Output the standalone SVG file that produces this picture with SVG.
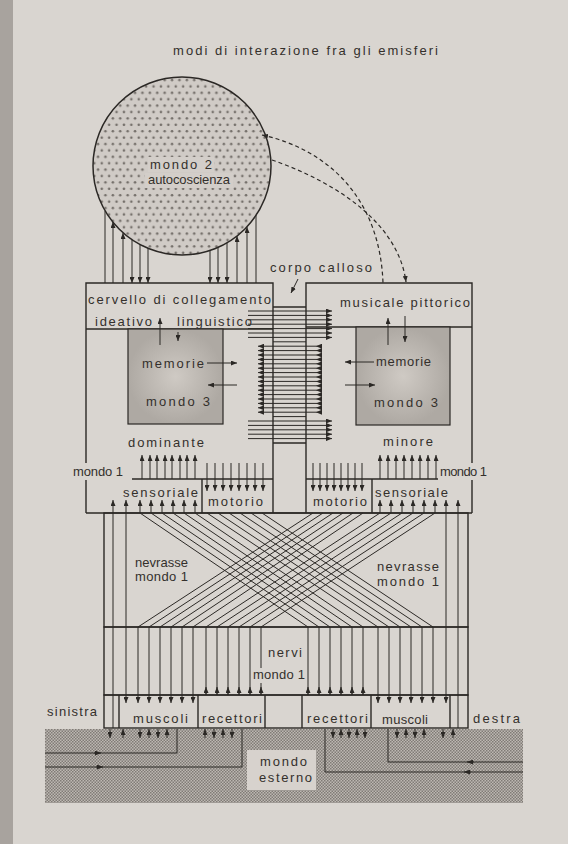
<svg xmlns="http://www.w3.org/2000/svg" width="568" height="844" viewBox="0 0 568 844">
<defs>
<style>
.ln{stroke:#2b2825;stroke-width:1;fill:none}
.bx{stroke:#2b2825;stroke-width:1.4;fill:none}
.dash{stroke:#2b2825;stroke-width:1.2;fill:none;stroke-dasharray:4 3}
.a{marker-end:url(#ah)}
.s{marker-start:url(#ah)}
.f{marker-start:url(#af)}
.t{font-family:"Liberation Sans",Arial,sans-serif;font-size:13px;fill:#34302c}
.bg{fill:#d9d5d0}
</style>
<marker id="ah" viewBox="0 0 6 5" refX="6" refY="2.5" markerWidth="6" markerHeight="5" markerUnits="userSpaceOnUse" orient="auto-start-reverse"><path d="M0,0 L6,2.5 L0,5 z" fill="#2b2825"/></marker>
<marker id="af" viewBox="0 0 6 5" refX="0" refY="2.5" markerWidth="6" markerHeight="5" markerUnits="userSpaceOnUse" orient="auto"><path d="M0,0 L6,2.5 L0,5 z" fill="#2b2825"/></marker>
<pattern id="dots" width="7.4" height="12.8" patternUnits="userSpaceOnUse"><rect width="7.4" height="12.8" fill="#d0cbc6"/><circle cx="1.85" cy="3.2" r="1.3" fill="#736e69"/><circle cx="5.55" cy="9.6" r="1.3" fill="#736e69"/></pattern>
<pattern id="ht" width="3" height="3" patternUnits="userSpaceOnUse"><rect width="3" height="3" fill="#bdb8b2"/><rect width="1.5" height="1.5" fill="#807b76"/><rect x="1.5" y="1.5" width="1.5" height="1.5" fill="#807b76"/></pattern>
<radialGradient id="mem"><stop offset="0" stop-color="#cfcac4"/><stop offset="1" stop-color="#aea9a3"/></radialGradient>
</defs>

<rect width="568" height="844" fill="#d9d5d0"/>
<rect width="13" height="844" fill="#a8a39e"/>

<g id="title"><text class="t" x="173" y="55" font-size="11" textLength="265" lengthAdjust="spacing">modi di interazione fra gli emisferi</text></g>

<g id="mondo-esterno">
<rect x="45" y="729" width="478" height="74" fill="url(#ht)"/>
</g>

<g id="mondo2">
<circle cx="182" cy="166" r="89" fill="url(#dots)" stroke="#2b2825" stroke-width="1.5"/>
<rect x="148" y="157" width="66" height="15" fill="#d3cec9"/>
<rect x="145" y="173" width="88" height="15" fill="#d3cec9"/>
<text class="t" x="150" y="169" textLength="62" lengthAdjust="spacing">mondo 2</text>
<text class="t" x="148" y="184" textLength="82" lengthAdjust="spacing">autocoscienza</text>
</g>

<g id="left-hemisphere">
<path class="bx" d="M86,513V283H273V513"/>
<path class="bx" d="M86,329H273"/>
<rect x="128" y="329" width="95" height="95" fill="url(#mem)" stroke="#2b2825" stroke-width="1.2"/>
<path class="bx" d="M132,479H273M202,479V513"/>
</g>

<g id="right-hemisphere">
<path class="bx" d="M306,513V283H472V513"/>
<path class="bx" d="M306,327H472"/>
<rect x="356" y="327" width="94" height="98" fill="url(#mem)" stroke="#2b2825" stroke-width="1.2"/>
<path class="bx" d="M306,479H442M372,479V513"/>
</g>

<g id="corpo-calloso">
<path class="bx" d="M273,307H306M273,443H306" stroke-width="2"/>
</g>

<g id="nevrasse">
<path class="bx" d="M86,513H472"/>
<rect x="104" y="513" width="364" height="114" class="bx"/>
</g>

<g id="nervi">
<rect x="104" y="627" width="364" height="68" class="bx"/>
</g>

<g id="periferia">
<rect x="104" y="695" width="364" height="33" class="bx"/>
<path class="bx" d="M119,695V728M198,695V728M265,695V728M302,695V728M371,695V728M450,695V728"/>
</g>

<g id="connectors">
<path class="ln" d="M105,211V283"/>
<path class="ln a" d="M113,283V222"/>
<path class="ln a" d="M123,283V233"/>
<path class="ln a" d="M132,240V283"/>
<path class="ln a" d="M140,244V283"/>
<path class="ln a" d="M148,248V283"/>
<path class="ln a" d="M210,250V283"/>
<path class="ln a" d="M218,247V283"/>
<path class="ln a" d="M227,243V283"/>
<path class="ln a" d="M237,283V236"/>
<path class="ln a" d="M247,283V227"/>
<path class="ln" d="M256,215V283"/>
<path class="dash s" d="M262,135 C330,150 380,200 383,283"/>
<path class="dash a" d="M272,160 C330,180 398,220 406,282"/>
<path class="ln a" d="M298,279L291,293"/>

<path class="ln a" d="M248,311H332"/><path class="ln a" d="M248,315.4H332"/><path class="ln a" d="M248,319.8H332"/><path class="ln a" d="M248,324.2H332"/><path class="ln a" d="M248,328.6H332"/><path class="ln a" d="M248,333H332"/><path class="ln a" d="M248,337.4H332"/>
<path class="ln" d="M273,341.8H306M273,416.6H306"/>
<path class="ln a f" d="M322,346.2H258"/><path class="ln a f" d="M322,350.6H258"/><path class="ln a f" d="M322,355H258"/><path class="ln a f" d="M322,359.4H258"/><path class="ln a f" d="M322,363.8H258"/><path class="ln a f" d="M322,368.2H258"/><path class="ln a f" d="M322,372.6H258"/><path class="ln a f" d="M322,377H258"/><path class="ln a f" d="M322,381.4H258"/><path class="ln a f" d="M322,385.8H258"/><path class="ln a f" d="M322,390.2H258"/><path class="ln a f" d="M322,394.6H258"/><path class="ln a f" d="M322,399H258"/><path class="ln a f" d="M322,403.4H258"/><path class="ln a f" d="M322,407.8H258"/><path class="ln a f" d="M322,412.2H258"/>
<path class="ln a" d="M248,421H332"/><path class="ln a" d="M248,425.4H332"/><path class="ln a" d="M248,429.8H332"/><path class="ln a" d="M248,434.2H332"/><path class="ln a" d="M248,438.6H332"/>

<path class="ln a" d="M207,363H237"/>
<path class="ln a" d="M237,385H208"/>
<path class="ln a" d="M374,362H345"/>
<path class="ln a" d="M345,385H375"/>
<path class="ln a" d="M160,345V318"/>
<path class="ln a" d="M178,332V341"/>
<path class="ln a" d="M388,345V318"/>
<path class="ln a" d="M405,316V342"/>

<path class="ln a" d="M142,479V455"/><path class="ln a" d="M150,479V455"/><path class="ln a" d="M157,479V455"/><path class="ln a" d="M165,479V455"/><path class="ln a" d="M172,479V455"/><path class="ln a" d="M180,479V455"/><path class="ln a" d="M187,479V455"/><path class="ln a" d="M195,479V455"/>
<path class="ln a" d="M380,479V455"/><path class="ln a" d="M388,479V455"/><path class="ln a" d="M396,479V455"/><path class="ln a" d="M404,479V455"/><path class="ln a" d="M412,479V455"/><path class="ln a" d="M420,479V455"/><path class="ln a" d="M428,479V455"/><path class="ln a" d="M436,479V455"/>
<path class="ln a" d="M207,463V491"/><path class="ln a" d="M215,463V491"/><path class="ln a" d="M223,463V491"/><path class="ln a" d="M231,463V491"/><path class="ln a" d="M239,463V491"/><path class="ln a" d="M247,463V491"/><path class="ln a" d="M255,463V491"/><path class="ln a" d="M263,463V491"/>
<path class="ln a" d="M313,463V491"/><path class="ln a" d="M320,463V491"/><path class="ln a" d="M327,463V491"/><path class="ln a" d="M334,463V491"/><path class="ln a" d="M341,463V491"/><path class="ln a" d="M348,463V491"/><path class="ln a" d="M355,463V491"/><path class="ln a" d="M362,463V491"/>
<path class="ln a" d="M113,513V500"/><path class="ln a" d="M126,513V500"/><path class="ln a" d="M140,513V500"/><path class="ln a" d="M151,513V500"/><path class="ln a" d="M162,513V500"/><path class="ln a" d="M173,513V500"/><path class="ln a" d="M184,513V500"/><path class="ln a" d="M195,513V500"/>
<path class="ln a" d="M380,513V500"/><path class="ln a" d="M391,513V500"/><path class="ln a" d="M402,513V500"/><path class="ln a" d="M413,513V500"/><path class="ln a" d="M424,513V500"/><path class="ln a" d="M435,513V500"/><path class="ln a" d="M446,513V500"/><path class="ln a" d="M458,513V500"/>

<path class="ln" d="M140,513L308,627M151,513L319,627M162,513L330,627M173,513L341,627M184,513L352,627M195,513L363,627M207,513L378,627M218,513L389,627M229,513L400,627M240,513L411,627M251,513L422,627M262,513L433,627"/>
<path class="ln" d="M313,513L138,627M323,513L149,627M333,513L160,627M343,513L171,627M353,513L182,627M363,513L193,627M380,513L206,627M391,513L217,627M402,513L228,627M413,513L239,627M424,513L250,627M435,513L261,627"/>
<path class="ln" d="M113,513V627M126,513V627M446,513V627M458,513V627"/>

<path class="ln" d="M113,627V728M458,627V728"/>
<path class="ln a" d="M126,627V703"/><path class="ln a" d="M138,627V703"/><path class="ln a" d="M149,627V703"/><path class="ln a" d="M160,627V703"/><path class="ln a" d="M171,627V703"/><path class="ln a" d="M182,627V703"/><path class="ln a" d="M193,627V703"/>
<path class="ln a" d="M378,627V703"/><path class="ln a" d="M389,627V703"/><path class="ln a" d="M400,627V703"/><path class="ln a" d="M411,627V703"/><path class="ln a" d="M422,627V703"/><path class="ln a" d="M433,627V703"/><path class="ln a" d="M446,627V703"/>
<path class="ln" d="M206,627V695M217,627V695M228,627V695M239,627V695M250,627V695M261,627V695M308,627V695M319,627V695M330,627V695M341,627V695M352,627V695M363,627V695"/>
<path class="ln a" d="M206,695V687"/><path class="ln a" d="M217,695V687"/><path class="ln a" d="M228,695V687"/><path class="ln a" d="M239,695V687"/><path class="ln a" d="M250,695V687"/><path class="ln a" d="M261,695V687"/>
<path class="ln a" d="M308,695V687"/><path class="ln a" d="M319,695V687"/><path class="ln a" d="M330,695V687"/><path class="ln a" d="M341,695V687"/><path class="ln a" d="M352,695V687"/><path class="ln a" d="M363,695V687"/>

<path class="ln a" d="M110,729V738"/><path class="ln a" d="M123,738V729"/><path class="ln a" d="M140,729V738"/><path class="ln a" d="M149,738V729"/><path class="ln a" d="M158,729V738"/><path class="ln a" d="M167,738V729"/>
<path class="ln a" d="M205,738V729"/><path class="ln a" d="M214,729V738"/><path class="ln a" d="M223,738V729"/><path class="ln a" d="M232,729V738"/>
<path class="ln a" d="M333,729V738"/><path class="ln a" d="M341,738V729"/><path class="ln a" d="M349,729V738"/><path class="ln a" d="M357,738V729"/><path class="ln a" d="M365,729V738"/>
<path class="ln a" d="M397,729V738"/><path class="ln a" d="M406,738V729"/><path class="ln a" d="M415,729V738"/><path class="ln a" d="M424,738V729"/><path class="ln a" d="M443,729V738"/><path class="ln a" d="M453,738V729"/>
<path class="ln" stroke-width="1.4" d="M45,753H177V729"/>
<path class="ln" stroke-width="1.4" d="M45,767H242V729"/>
<path class="ln" stroke-width="1.4" d="M388,729V762H523"/>
<path class="ln" stroke-width="1.4" d="M325,729V772H523"/>
<path class="ln a" d="M94,753H101"/><path class="ln a" d="M96,767H103"/>
<path class="ln a" d="M474,762H467"/><path class="ln a" d="M471,772H464"/>
</g>

<g id="labels">
<text class="t" x="270" y="272" textLength="102" lengthAdjust="spacing">corpo calloso</text>
<text class="t" x="88" y="304" textLength="183" lengthAdjust="spacing">cervello di collegamento</text>
<text class="t" x="95" y="326" textLength="57" lengthAdjust="spacing">ideativo</text>
<text class="t" x="177" y="326" textLength="75" lengthAdjust="spacing">linguistico</text>
<text class="t" x="340" y="307" textLength="130" lengthAdjust="spacing">musicale pittorico</text>
<text class="t" x="142" y="368" textLength="62" lengthAdjust="spacing">memorie</text>
<text class="t" x="146" y="406" textLength="64" lengthAdjust="spacing">mondo 3</text>
<text class="t" x="376" y="366" textLength="55" lengthAdjust="spacing">memorie</text>
<text class="t" x="374" y="407" textLength="64" lengthAdjust="spacing">mondo 3</text>
<text class="t" x="128" y="447" textLength="76" lengthAdjust="spacing">dominante</text>
<text class="t" x="383" y="446" textLength="50" lengthAdjust="spacing">minore</text>
<rect class="bg" x="71" y="463" width="55" height="17"/>
<text class="t" x="73" y="476" textLength="50" lengthAdjust="spacing">mondo 1</text>
<rect class="bg" x="438" y="463" width="51" height="17"/>
<text class="t" x="440" y="476" textLength="47" lengthAdjust="spacing">mondo 1</text>
<text class="t" x="123" y="497" textLength="75" lengthAdjust="spacing">sensoriale</text>
<text class="t" x="208" y="506" textLength="55" lengthAdjust="spacing">motorio</text>
<text class="t" x="313" y="506" textLength="54" lengthAdjust="spacing">motorio</text>
<text class="t" x="375" y="497" textLength="73" lengthAdjust="spacing">sensoriale</text>
<text class="t" x="135" y="567" textLength="53" lengthAdjust="spacing">nevrasse</text>
<text class="t" x="135" y="581" textLength="53" lengthAdjust="spacing">mondo 1</text>
<text class="t" x="377" y="571" textLength="62" lengthAdjust="spacing">nevrasse</text>
<text class="t" x="377" y="586" textLength="62" lengthAdjust="spacing">mondo 1</text>
<text class="t" x="268" y="657" textLength="34" lengthAdjust="spacing">nervi</text>
<rect class="bg" x="251" y="668" width="55" height="15"/>
<text class="t" x="253" y="679" textLength="52" lengthAdjust="spacing">mondo 1</text>
<text class="t" x="47" y="716" textLength="50" lengthAdjust="spacing">sinistra</text>
<text class="t" x="473" y="723" textLength="47" lengthAdjust="spacing">destra</text>
<text class="t" x="133" y="723" textLength="55" lengthAdjust="spacing">muscoli</text>
<text class="t" x="202" y="723" textLength="60" lengthAdjust="spacing">recettori</text>
<text class="t" x="307" y="723" textLength="61" lengthAdjust="spacing">recettori</text>
<text class="t" x="382" y="724" textLength="46" lengthAdjust="spacing">muscoli</text>
<rect x="247" y="750" width="69" height="40" fill="#d7d2cd"/>
<text class="t" x="260" y="766" textLength="47" lengthAdjust="spacing">mondo</text>
<text class="t" x="259" y="782" textLength="53" lengthAdjust="spacing">esterno</text>
</g>
</svg>
